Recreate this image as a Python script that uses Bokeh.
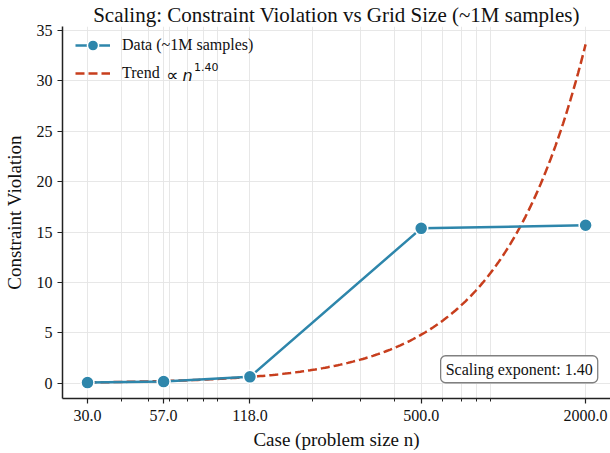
import numpy as np
from bokeh.plotting import figure
from bokeh.models import (Range1d, FixedTicker, Legend, LegendItem, Label)
from bokeh.embed import file_html
from bokeh.resources import INLINE

# ---- data ----
cases = [30, 57, 118, 500, 2000]
violation = [0.08, 0.18, 0.65, 15.38, 15.68]
x_tick_labels = ["30.0", "57.0", "118.0", "500.0", "2000.0"]
y_ticks = [0, 5, 10, 15, 20, 25, 30, 35]
minor_x = [40, 50, 60, 70, 80, 90, 200, 300, 400, 600, 700, 800, 900]
trend_exponent = 1.40
trend_coef = 8.04e-4

trend_x = np.logspace(np.log10(cases[0]), np.log10(cases[-1]), 200)
trend_y = trend_coef * trend_x ** trend_exponent

SERIF = "Liberation Serif"
BLUE = "#2E86AB"
RED = "#C73E1D"

p = figure(width=610, height=453, x_axis_type="log",
           x_range=Range1d(24.3, 2467), y_range=Range1d(-1.5, 35.4),
           output_backend="svg", toolbar_location=None,
           min_border_left=62, min_border_right=0, min_border_top=25,
           min_border_bottom=55)
p.outline_line_color = None
p.background_fill_color = "white"

p.title.text = "Scaling: Constraint Violation vs Grid Size (~1M samples)"
p.title.text_font = SERIF
p.title.text_font_size = "21px"
p.title.text_font_style = "normal"
p.title.text_line_height = 1.0
p.title.align = "center"
p.title.standoff = 0
p.title.offset = 0
p.title.text_color = "#111111"

# axes
xa = p.xaxis[0]
xa.ticker = FixedTicker(ticks=cases, minor_ticks=minor_x)
xa.major_label_overrides = {c: l for c, l in zip(cases, x_tick_labels)}
ya = p.yaxis[0]
ya.ticker = FixedTicker(ticks=y_ticks)

for ax in (xa, ya):
    ax.axis_line_color = "#222222"
    ax.axis_line_width = 1.5
    ax.major_tick_line_color = "#222222"
    ax.major_tick_line_width = 1.2
    ax.major_tick_out = 5
    ax.major_tick_in = 0
    ax.minor_tick_line_color = "#222222"
    ax.minor_tick_out = 3
    ax.minor_tick_in = 0
    ax.major_label_text_font = SERIF
    ax.major_label_text_font_size = "16px"
    ax.major_label_text_color = "#111111"
    ax.axis_label_text_font = SERIF
    ax.axis_label_text_font_size = "19px"
    ax.axis_label_text_font_style = "normal"
    ax.axis_label_text_color = "#111111"
ya.minor_tick_out = 0
xa.axis_label = "Case (problem size n)"
ya.axis_label = "Constraint Violation"
xa.major_label_standoff = 6
ya.major_label_standoff = 5
xa.axis_label_standoff = 5
ya.axis_label_standoff = 9

p.xgrid.ticker = xa.ticker
p.xgrid.grid_line_color = "#e4e4e4"
p.xgrid.minor_grid_line_color = "#e4e4e4"
p.xgrid.grid_line_width = 0.9
p.xgrid.minor_grid_line_width = 0.9
p.ygrid.grid_line_color = "#e4e4e4"
p.ygrid.grid_line_width = 0.9

# glyphs
r_trend = p.line(trend_x, trend_y, line_color=RED, line_width=2.5,
                 line_dash="9 4")
r_line = p.line(cases, violation, line_color=BLUE, line_width=2.5)
r_pts = p.scatter(cases, violation, size=13, fill_color=BLUE,
                  line_color="white", line_width=1.5)

legend = Legend(items=[
    LegendItem(label="Data (~1M samples)", renderers=[r_line, r_pts]),
    LegendItem(label="Trend", renderers=[r_trend]),
], location=(8, 306))
legend.margin = 0
legend.padding = 5
legend.glyph_width = 35
legend.glyph_height = 28
legend.label_height = 28
legend.spacing = 0
legend.label_standoff = 12
legend.label_text_font = SERIF
legend.label_text_font_size = "16px"
legend.label_text_color = "#111111"
legend.border_line_alpha = 0
legend.background_fill_alpha = 0
p.add_layout(legend)

# math part of the trend label
p.add_layout(Label(x=58.3, y=30.55, text="\u221d", text_font="DejaVu Sans",
                   text_font_size="17px", text_baseline="alphabetic",
                   text_color="#111111"))
p.add_layout(Label(x=66.8, y=30.55, text="n", text_font="DejaVu Sans",
                   text_font_style="italic", text_font_size="16px",
                   text_baseline="alphabetic", text_color="#111111"))
p.add_layout(Label(x=73.6, y=31.4, text="1.40", text_font="DejaVu Sans",
                   text_font_size="11px", text_baseline="alphabetic",
                   text_color="#111111"))

# annotation box
p.add_layout(Label(x=2215, y=1.4, text="Scaling exponent: 1.40",
                   text_font=SERIF, text_font_size="16px",
                   text_align="right", text_baseline="middle",
                   text_color="#111111",
                   background_fill_color="white",
                   border_line_color="#808080", border_line_width=1.3,
                   padding=5, border_radius=5))

open("out.html", "w").write(file_html(p, INLINE))
